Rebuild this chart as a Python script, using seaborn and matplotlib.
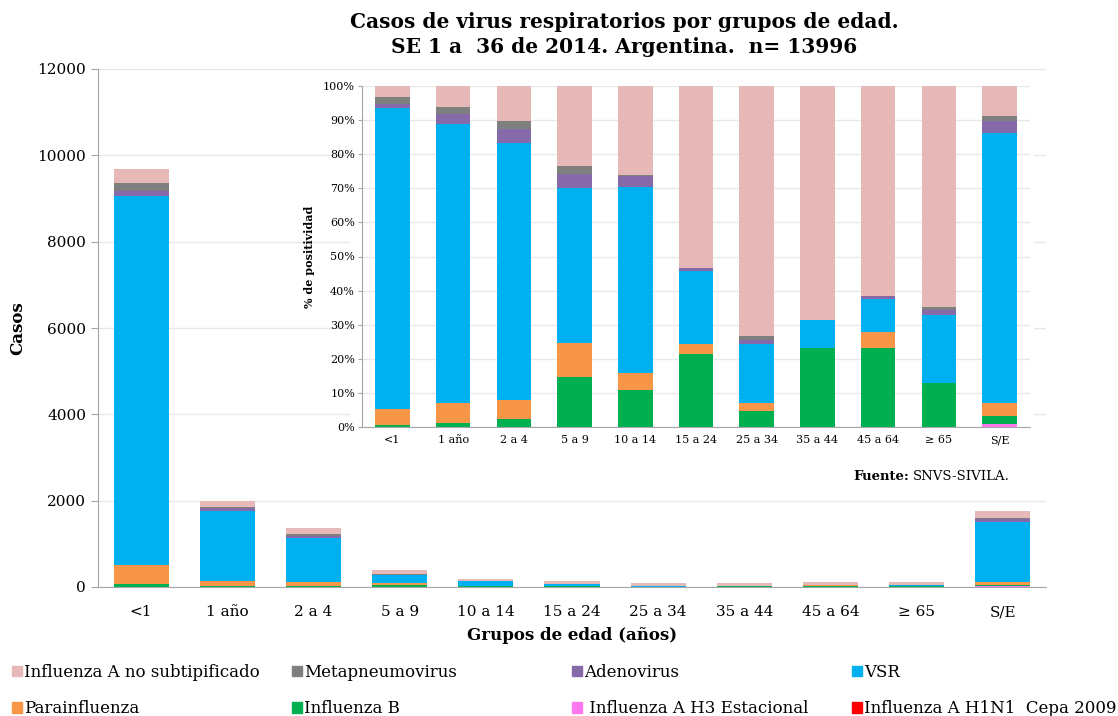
import matplotlib.pyplot as plt
import matplotlib.patches as mpatches
import numpy as np
import pandas as pd
import seaborn as sns

grupos = ["<1", "1 año", "2 a 4", "5 a 9", "10 a 14", "15 a 24",
          "25 a 34", "35 a 44", "45 a 64", "≥ 65", "S/E"]

# casos por virus y grupo de edad (orden de apilado: de abajo hacia arriba)
h1n1 = [0, 0, 0, 0, 0, 0, 0, 0, 0, 0, 0]
h3 = [0, 0, 0, 0, 0, 0, 0, 0, 0, 0, 18]
flu_b = [58, 24, 33, 57, 21, 28, 4, 20, 29, 16, 39]
parainfluenza = [455, 117, 75, 38, 10, 4, 2, 0, 6, 0, 68]
vsr = [8538, 1626, 1024, 175, 107, 28, 15, 7, 12, 25, 1386]
adenovirus = [116, 56, 56, 16, 6, 1, 1, 0, 1, 2, 61]
metapneumovirus = [194, 38, 31, 10, 1, 0, 1, 0, 0, 1, 28]
flu_a_nst = [319, 125, 141, 90, 51, 70, 63, 59, 77, 81, 154]

nombres = ["Influenza A H1N1  Cepa 2009", " Influenza A H3 Estacional", "Influenza B",
           "Parainfluenza", "VSR", "Adenovirus", "Metapneumovirus",
           "Influenza A no subtipificado"]
colores = ["#FF0000", "#FF77EE", "#00B050", "#F79646", "#00B0F0", "#8669A8",
           "#7F7F7F", "#E6B8B7"]
series = [h1n1, h3, flu_b, parainfluenza, vsr, adenovirus, metapneumovirus, flu_a_nst]

sns.set_style("white")
plt.rcParams["font.family"] = ["DejaVu Serif"]
plt.rcParams["text.color"] = "black"
plt.rcParams["axes.labelcolor"] = "black"
plt.rcParams["xtick.labelcolor"] = "black"
plt.rcParams["ytick.labelcolor"] = "black"

casos = pd.DataFrame(np.array(series).T, columns=nombres, index=grupos)
acum = casos.cumsum(axis=1)
pct = acum.div(casos.sum(axis=1), axis=0) * 100

fig = plt.figure(figsize=(11.18, 7.16), dpi=100)
ax = fig.add_axes([98 / 1118, 129 / 716, 948 / 1118, 518 / 716])

# barras apiladas: se dibuja el acumulado desde arriba hacia abajo
for nombre, color in zip(nombres[::-1], colores[::-1]):
    sns.barplot(x=grupos, y=acum[nombre].values, order=grupos, color=color,
                saturation=1, width=0.64, errorbar=None, linewidth=0, ax=ax)

gris = "#A6A6A6"
ax.set_ylim(0, 12000)
ax.set_yticks(range(0, 12001, 2000))
ax.set_xlim(-0.5, len(grupos) - 0.5)
ax.yaxis.grid(True, color="#E8E8E8", linewidth=1)
ax.set_axisbelow(True)
for s in ["top", "right"]:
    ax.spines[s].set_visible(False)
for s in ["left", "bottom"]:
    ax.spines[s].set_color(gris)
ax.set_xticks(np.arange(-0.5, len(grupos)), minor=True)
ax.tick_params(axis="x", which="major", length=0, labelsize=11, pad=13)
ax.tick_params(axis="x", which="minor", length=6, color=gris)
ax.tick_params(axis="y", length=5, color=gris, labelsize=11, left=True)
ax.set_xlabel("Grupos de edad (años)", fontsize=12, fontweight="bold", labelpad=6)
ax.set_ylabel("Casos", fontsize=12, fontweight="bold", labelpad=8)

# fondo blanco del recuadro
fig.add_artist(mpatches.Rectangle((350 / 1118, (716 - 432) / 716), 684 / 1118, 357 / 716,
                                  transform=fig.transFigure, facecolor="white",
                                  edgecolor="none", zorder=0.5))

ins = fig.add_axes([362 / 1118, (716 - 427) / 716, 668 / 1118, 341 / 716])
ins.set_zorder(1)
for nombre, color in zip(nombres[::-1], colores[::-1]):
    sns.barplot(x=grupos, y=pct[nombre].values, order=grupos, color=color,
                saturation=1, width=0.57, errorbar=None, linewidth=0, ax=ins)
ins.set_ylim(0, 100)
ins.set_xlim(-0.5, len(grupos) - 0.5)
ins.set_yticks(range(0, 101, 10))
ins.set_yticklabels([f"{v}%" for v in range(0, 101, 10)])
ins.yaxis.grid(True, color="#E8E8E8", linewidth=1)
ins.set_axisbelow(True)
for s in ["top", "right"]:
    ins.spines[s].set_visible(False)
for s in ["left", "bottom"]:
    ins.spines[s].set_color(gris)
ins.set_xticks(np.arange(-0.5, len(grupos)), minor=True)
ins.tick_params(axis="x", which="major", length=0, labelsize=8, pad=6)
ins.tick_params(axis="x", which="minor", length=4, color=gris)
ins.tick_params(axis="y", length=3, color=gris, labelsize=8, left=True, pad=2)
ins.set_ylabel("% de positividad", fontsize=8, fontweight="bold", labelpad=6)

fig.text(853 / 1118, 1 - 476 / 716, "Fuente:", fontsize=9.5, fontweight="bold", va="center")
fig.text(913 / 1118, 1 - 476 / 716, "SNVS-SIVILA.", fontsize=9.5, va="center")

fig.text(624 / 1118, 1 - 22 / 716, "Casos de virus respiratorios por grupos de edad.",
         fontsize=14.5, fontweight="bold", ha="center", va="center")
fig.text(624 / 1118, 1 - 47 / 716, "SE 1 a  36 de 2014. Argentina.  n= 13996",
         fontsize=14.5, fontweight="bold", ha="center", va="center")

# leyenda en 4 columnas
orden = nombres[::-1]
col_x = [12, 292, 572, 852]
for j, x in enumerate(col_x):
    idx = [j, j + 4]
    handles = [mpatches.Patch(color=colores[nombres.index(orden[i])]) for i in idx]
    fig.legend(handles, [orden[i] for i in idx], loc="upper left",
               bbox_to_anchor=(x / 1118, 1 - 664 / 716), frameon=False,
               fontsize=12, handlelength=0.6, handleheight=0.6, handletextpad=0.15,
               labelspacing=1.15, borderpad=0, borderaxespad=0)

fig.savefig("out.png", dpi=100)
